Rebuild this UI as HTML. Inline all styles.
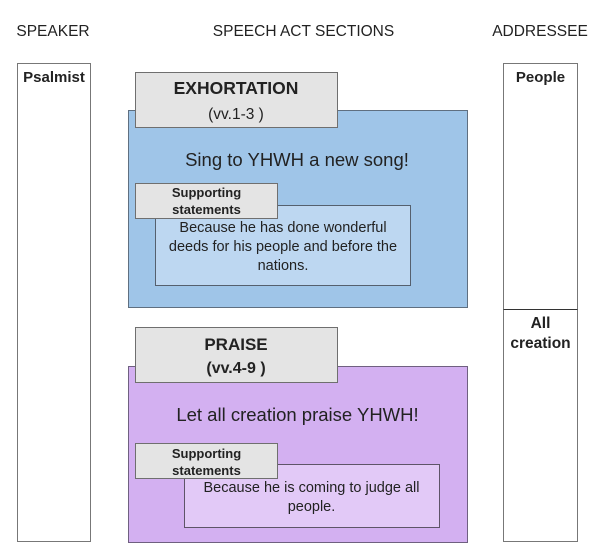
<!DOCTYPE html>
<html>
<head>
<meta charset="utf-8">
<style>
  html,body{margin:0;padding:0;background:#fff;}
  svg{display:block;}
  text{font-family:"Liberation Sans",Arial,sans-serif;fill:#222;}
  .b{font-weight:bold;}
</style>
</head>
<body>
<svg width="600" height="554" viewBox="0 0 600 554" xmlns="http://www.w3.org/2000/svg">
  <rect x="0" y="0" width="600" height="554" fill="#fff"/>

  <!-- Column headers -->
  <text x="53" y="36" font-size="15.5" text-anchor="middle">SPEAKER</text>
  <text x="303.5" y="36" font-size="15.5" text-anchor="middle">SPEECH ACT SECTIONS</text>
  <text x="540" y="36" font-size="15.5" text-anchor="middle">ADDRESSEE</text>

  <!-- Speaker column -->
  <rect x="17.5" y="63.5" width="73" height="478" fill="#fff" stroke="#777" stroke-width="1"/>
  <text x="54" y="82" font-size="15" class="b" text-anchor="middle">Psalmist</text>

  <!-- Addressee column -->
  <rect x="503.5" y="63.5" width="74" height="478" fill="#fff" stroke="#777" stroke-width="1"/>
  <line x1="503.5" y1="309.5" x2="577.5" y2="309.5" stroke="#333" stroke-width="1"/>
  <text x="540.5" y="82" font-size="15" class="b" text-anchor="middle">People</text>
  <text x="540.5" y="328" font-size="15.5" class="b" text-anchor="middle">All</text>
  <text x="540.5" y="348" font-size="15.5" class="b" text-anchor="middle">creation</text>

  <!-- EXHORTATION section -->
  <rect x="128.5" y="110.5" width="339" height="197" fill="#9fc5e8" stroke="#5f6f80" stroke-width="1"/>
  <rect x="135.5" y="72.5" width="202" height="55" fill="#e4e4e4" stroke="#6f6f6f" stroke-width="1"/>
  <text x="236" y="94" font-size="17.5" class="b" text-anchor="middle">EXHORTATION</text>
  <text x="236" y="119" font-size="15.5" text-anchor="middle">(vv.1-3 )</text>
  <text x="297" y="166" font-size="18.5" text-anchor="middle">Sing to YHWH a new song!</text>

  <rect x="155.5" y="205.5" width="255" height="80" fill="#bdd7f1" stroke="#55606e" stroke-width="1"/>
  <rect x="135.5" y="183.5" width="142" height="35" fill="#e4e4e4" stroke="#6f6f6f" stroke-width="1"/>
  <text x="206.5" y="197" font-size="13" class="b" text-anchor="middle">Supporting</text>
  <text x="206.5" y="214" font-size="13" class="b" text-anchor="middle">statements</text>
  <text x="283" y="232" font-size="14.5" text-anchor="middle">Because he has done wonderful</text>
  <text x="283" y="251" font-size="14.5" text-anchor="middle">deeds for his people and before the</text>
  <text x="283" y="270" font-size="14.5" text-anchor="middle">nations.</text>

  <!-- PRAISE section -->
  <rect x="128.5" y="366.5" width="339" height="176" fill="#d3b0f1" stroke="#6f6080" stroke-width="1"/>
  <rect x="135.5" y="327.5" width="202" height="55" fill="#e4e4e4" stroke="#6f6f6f" stroke-width="1"/>
  <text x="236" y="350" font-size="17" class="b" text-anchor="middle">PRAISE</text>
  <text x="236" y="373" font-size="16" class="b" text-anchor="middle">(vv.4-9 )</text>
  <text x="297.5" y="421" font-size="18.5" text-anchor="middle">Let all creation praise YHWH!</text>

  <rect x="184.5" y="464.5" width="255" height="63" fill="#e2c9f7" stroke="#5e5468" stroke-width="1"/>
  <rect x="135.5" y="443.5" width="142" height="35" fill="#e4e4e4" stroke="#6f6f6f" stroke-width="1"/>
  <text x="206.5" y="458" font-size="13" class="b" text-anchor="middle">Supporting</text>
  <text x="206.5" y="475" font-size="13" class="b" text-anchor="middle">statements</text>
  <text x="311.5" y="492" font-size="14.5" text-anchor="middle">Because he is coming to judge all</text>
  <text x="311.5" y="511" font-size="14.5" text-anchor="middle">people.</text>
</svg>
</body>
</html>
